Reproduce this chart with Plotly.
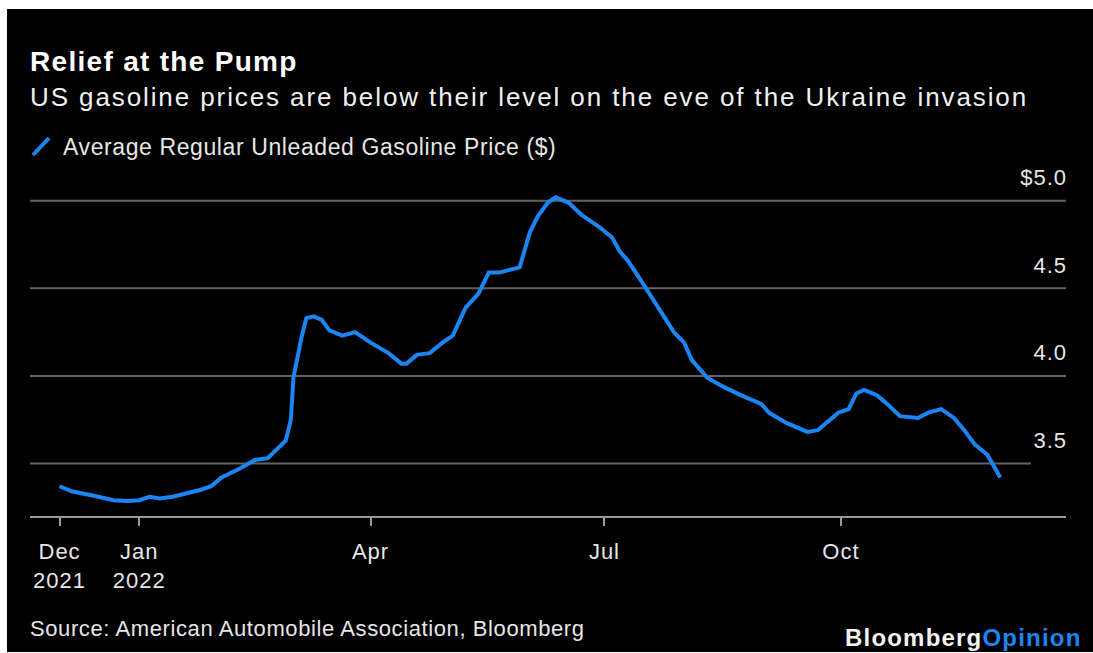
import plotly.graph_objects as go

# ---------------- data ----------------
dates = [
    "2021-12-01", "2021-12-06", "2021-12-13", "2021-12-22", "2021-12-27",
    "2022-01-01", "2022-01-05", "2022-01-09", "2022-01-14", "2022-01-20",
    "2022-01-25", "2022-01-29", "2022-02-02", "2022-02-09", "2022-02-15",
    "2022-02-20", "2022-02-24", "2022-02-27", "2022-03-01", "2022-03-02",
    "2022-03-05", "2022-03-07", "2022-03-10", "2022-03-13", "2022-03-16",
    "2022-03-21", "2022-03-26", "2022-04-01", "2022-04-08", "2022-04-13",
    "2022-04-15", "2022-04-19", "2022-04-24", "2022-04-29", "2022-05-03",
    "2022-05-08", "2022-05-13", "2022-05-17", "2022-05-21", "2022-05-26",
    "2022-05-29", "2022-06-02", "2022-06-05", "2022-06-09", "2022-06-12",
    "2022-06-17", "2022-06-22", "2022-06-29", "2022-07-04", "2022-07-07",
    "2022-07-10", "2022-07-15", "2022-07-19", "2022-07-23", "2022-07-28",
    "2022-08-01", "2022-08-04", "2022-08-10", "2022-08-16", "2022-08-23",
    "2022-08-31", "2022-09-03", "2022-09-10", "2022-09-18", "2022-09-22",
    "2022-09-26", "2022-09-30", "2022-10-04", "2022-10-07", "2022-10-10",
    "2022-10-15", "2022-10-19", "2022-10-24", "2022-10-31", "2022-11-04",
    "2022-11-09", "2022-11-14", "2022-11-18", "2022-11-22", "2022-11-27",
    "2022-12-02",
]
prices = [
    3.37, 3.34, 3.32, 3.29, 3.285,
    3.29, 3.31, 3.30, 3.31, 3.33,
    3.35, 3.37, 3.42, 3.47, 3.52,
    3.53, 3.59, 3.63, 3.75, 3.99,
    4.21, 4.33, 4.34, 4.32, 4.26,
    4.23, 4.25, 4.19, 4.13, 4.07,
    4.07, 4.12, 4.13, 4.19, 4.23,
    4.39, 4.47, 4.59, 4.59, 4.61,
    4.62, 4.82, 4.91, 4.99, 5.02,
    4.99, 4.92, 4.85, 4.79, 4.71,
    4.66, 4.55, 4.46, 4.37, 4.25,
    4.19, 4.09, 3.99, 3.94, 3.89,
    3.84, 3.79, 3.73, 3.68, 3.69,
    3.74, 3.79, 3.81, 3.90, 3.92,
    3.89, 3.84, 3.77, 3.76, 3.79,
    3.81, 3.76, 3.69, 3.61, 3.55,
    3.42,
]
x_tick_vals = ["2021-12-01", "2022-01-01", "2022-04-01", "2022-07-01", "2022-10-01"]
x_tick_text = ["Dec<br>2021", "Jan<br>2022", "Apr", "Jul", "Oct"]
y_tick_vals = [3.5, 4.0, 4.5, 5.0]
y_tick_text = ["3.5", "4.0", "4.5", "$5.0"]

title = "Relief at the Pump"
subtitle = "US gasoline prices are below their level on the eve of the Ukraine invasion"
legend_label = "Average Regular Unleaded Gasoline Price ($)"
source = "Source: American Automobile Association, Bloomberg"

# ---------------- layout helpers ----------------
W, H = 1093, 653
L, R, T, B = 30, 27, 157, 137
PW, PH = W - L - R, H - T - B
BLUE = "#1a86f5"
FONT = "Liberation Sans, Arial, sans-serif"


def px_x(px):
    return (px - L) / PW


def px_y(py):
    return (H - B - py) / PH


def spaced(text, ls):
    return "<span style='letter-spacing:%spx'>%s</span>" % (ls, text)


fig = go.Figure()
fig.add_trace(go.Scatter(
    x=dates, y=prices, mode="lines",
    line=dict(color=BLUE, width=4),
    name=legend_label, showlegend=False, hoverinfo="skip",
))

shapes = []
# black canvas (white frame on left/top/bottom like the reference)
shapes.append(dict(type="rect", xref="paper", yref="paper", layer="below",
                   x0=px_x(7), x1=px_x(W + 5), y0=px_y(652), y1=px_y(9),
                   fillcolor="black", line=dict(width=0)))
# gridlines
for v in y_tick_vals:
    x1 = px_x(1031) if v == 3.5 else 1.0
    shapes.append(dict(type="line", xref="paper", yref="y", layer="below",
                       x0=0, x1=x1, y0=v, y1=v,
                       line=dict(color="#626262", width=2)))
# legend slash
shapes.append(dict(type="line", xref="paper", yref="paper",
                   x0=px_x(33), x1=px_x(49), y0=px_y(155), y1=px_y(138),
                   line=dict(color=BLUE, width=4)))

annotations = [
    dict(text="<b>" + spaced(title, 1.3) + "</b>", x=px_x(28), y=px_y(61),
         xanchor="left", yanchor="middle",
         font=dict(size=28, color="white", family=FONT)),
    dict(text=spaced(subtitle, 1.9), x=px_x(28), y=px_y(97),
         xanchor="left", yanchor="middle",
         font=dict(size=26, color="#f0f0f0", family=FONT)),
    dict(text=spaced(legend_label, 0.6), x=px_x(61), y=px_y(147),
         xanchor="left", yanchor="middle",
         font=dict(size=23, color="#e6e6e6", family=FONT)),
    dict(text=spaced(source, 0.6), x=px_x(28), y=px_y(628),
         xanchor="left", yanchor="middle",
         font=dict(size=22, color="#e6e6e6", family=FONT)),
    dict(text="<b>" + spaced("Bloomberg", 1.2) +
         "<span style='color:" + BLUE + ";letter-spacing:1.2px'>Opinion</span></b>",
         x=px_x(1084), y=px_y(637), xanchor="right", yanchor="middle",
         font=dict(size=24, color="#f2f2f2", family=FONT)),
]
for a in annotations:
    a.update(xref="paper", yref="paper", showarrow=False)

fig.update_layout(
    width=W, height=H, autosize=False,
    margin=dict(l=L, r=R, t=T, b=B, pad=0),
    paper_bgcolor="white", plot_bgcolor="black",
    shapes=shapes, annotations=annotations,
    showlegend=False,
    xaxis=dict(
        type="date", range=["2021-11-19 12:00", "2022-12-27 14:00"],
        tickvals=x_tick_vals, ticktext=[spaced(t, 1) for t in x_tick_text],
        showgrid=False, zeroline=False,
        showline=True, linecolor="#9a9a9a", linewidth=2,
        ticks="outside", ticklen=8, tickwidth=2, tickcolor="#9a9a9a",
        ticklabelstandoff=7,
        tickfont=dict(size=22, color="#e6e6e6", family=FONT),
    ),
    yaxis=dict(
        range=[3.2, 5.25], side="right",
        tickvals=y_tick_vals, ticktext=[spaced(t, 1) for t in y_tick_text],
        ticklabelposition="inside top", ticks="",
        ticklabelshift=-8, ticklabelstandoff=-4,
        showgrid=False, zeroline=False, showline=False,
        tickfont=dict(size=22, color="#e6e6e6", family=FONT),
    ),
)

fig.write_html("out.html")
